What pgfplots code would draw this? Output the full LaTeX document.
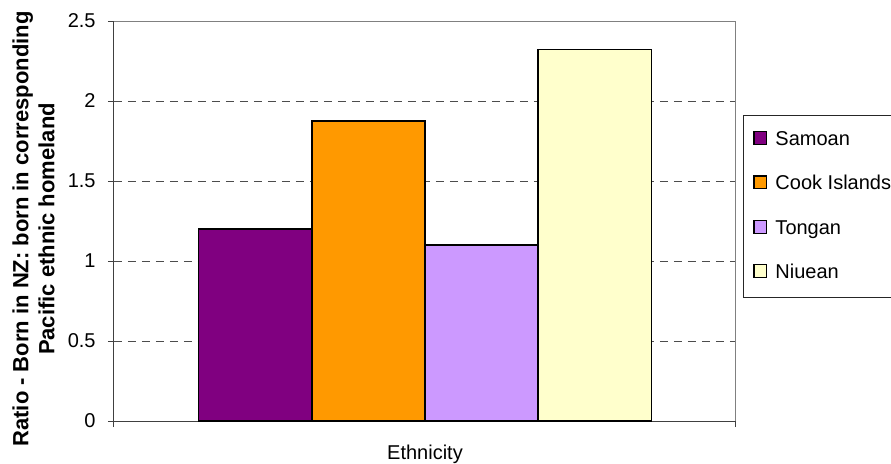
\documentclass[border=0pt]{standalone}
\usepackage{fontspec}
\setmainfont{Liberation Sans}
\usepackage{pgfplots}
\pgfplotsset{compat=1.18}
\definecolor{samoan}{HTML}{800080}
\definecolor{cook}{HTML}{FF9900}
\definecolor{tongan}{HTML}{CC99FF}
\definecolor{niuean}{HTML}{FFFFCC}
\begin{document}
\begin{tikzpicture}[x=1pt,y=1pt]
\path[use as bounding box] (-57,-21) rectangle (388.5,210.5);
\begin{axis}[
  at={(0,0)}, anchor=south west,
  scale only axis, width=311pt, height=200pt,
  xmin=-2.75, xmax=2.75, ymin=0, ymax=2.5,
  ybar, bar width=1,
  axis x line*=bottom, axis y line*=left,
  axis line style={black!75, line width=0.5pt},
  tick align=outside, major tick length=3pt,
  tick style={black!75, line width=0.5pt},
  xtick={-2.75,2.75}, xticklabels={},
  ytick={0,0.5,1,1.5,2,2.5},
  yticklabels={0,0.5,1,1.5,2,2.5},
  yticklabel style={anchor=east, inner sep=0pt, xshift=-6pt, font=\fontsize{10}{12}\selectfont},
  /pgf/number format/assume math mode=true,
  ymajorgrids,
  major grid style={black!70, line width=0.5pt, dash pattern=on 4pt off 3pt},
  xlabel={Ethnicity},
  xlabel style={at={(rel axis cs:0.5,0)}, anchor=base, yshift=-19pt, inner sep=0pt, font=\fontsize{10}{12}\selectfont},
  ylabel={Ratio - Born in NZ: born in corresponding\\Pacific ethnic homeland},
  ylabel style={at={(rel axis cs:0,0.48)}, anchor=south, yshift=29.5pt, inner sep=0pt, align=center, font=\fontsize{11}{13}\selectfont\bfseries},
  legend image code/.code={\draw[#1, draw=black, line width=0.6pt] (0pt,0.4pt) rectangle (6.4pt,6.8pt);},
  legend style={at={(rel axis cs:1.01125,0.765)}, anchor=north west,
    draw=black!85, line width=0.5pt, inner xsep=5pt, inner ysep=7.65pt,
    row sep=13.2pt, column sep=4pt,
    font=\fontsize{10}{12}\selectfont,
    nodes={inner sep=0pt, text height=7.2pt, text depth=1.8pt, anchor=base west}},
  legend cell align=left,
]
\addplot[bar shift=0pt, fill=samoan, draw=black, line width=0.6pt] coordinates {(-1.5,1.2)};
\addlegendentry{Samoan}
\addplot[bar shift=0pt, fill=cook, draw=black, line width=0.6pt] coordinates {(-0.5,1.875)};
\addlegendentry{Cook Islands}
\addplot[bar shift=0pt, fill=tongan, draw=black, line width=0.6pt] coordinates {(0.5,1.1)};
\addlegendentry{Tongan}
\addplot[bar shift=0pt, fill=niuean, draw=black, line width=0.6pt] coordinates {(1.5,2.32)};
\addlegendentry{Niuean}
\draw[black!50, line width=0.6pt] (rel axis cs:0,1) -- (rel axis cs:1,1) -- (rel axis cs:1,0);
\end{axis}
\end{tikzpicture}
\end{document}
